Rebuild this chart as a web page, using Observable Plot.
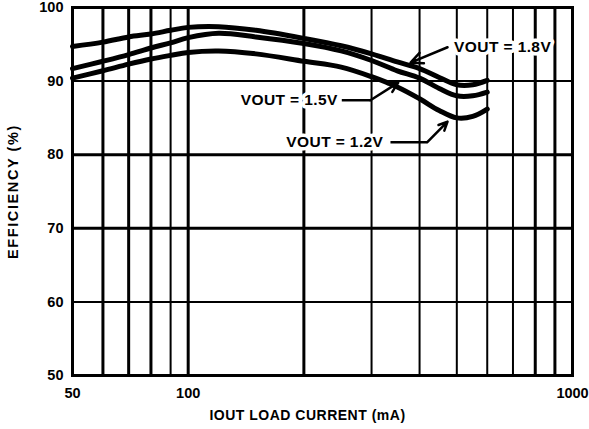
<!DOCTYPE html>
<html><head><meta charset="utf-8">
<script src="https://cdn.jsdelivr.net/npm/d3@7"></script>
<script src="https://cdn.jsdelivr.net/npm/@observablehq/plot@0.6"></script>
<style>body{margin:0;background:#fff} svg{display:block}</style>
</head><body><div id="chart"></div>
<script>
// Load current (mA)
const current = [50, 60, 70, 80, 90, 100, 120, 150, 200, 250, 300, 350, 400, 450, 500, 550, 600];
// Efficiency (%) per output voltage
const vout18 = [94.7, 95.3, 96.0, 96.4, 96.9, 97.3, 97.4, 96.9, 95.8, 94.8, 93.7, 92.6, 91.7, 90.5, 89.5, 89.5, 90.1];
const vout15 = [91.7, 92.7, 93.6, 94.5, 95.2, 95.9, 96.5, 96.0, 95.1, 94.1, 92.8, 91.4, 90.4, 89.0, 88.0, 88.0, 88.5];
const vout12 = [90.4, 91.4, 92.3, 93.0, 93.5, 93.9, 94.1, 93.7, 92.7, 91.9, 90.6, 89.2, 87.6, 86.0, 85.0, 85.2, 86.2];
const seriesNames = ["1.8V", "1.5V", "1.2V"];

const xTicks = [50, 100, 1000];
const yTicks = [50, 60, 70, 80, 90, 100];
const xGrid = [60, 70, 80, 90, 100, 200, 300, 400, 500, 600, 700, 800, 900];
const yGrid = [60, 70, 80, 90];

// Annotations (data coordinates)
const labelText = ["VOUT = 1.8V", "VOUT = 1.5V", "VOUT = 1.2V"];
const labelX = [492, 245, 322];
const labelY = [94.6, 87.4, 81.7];
const leaders = [
  {x1: 251, y1: 87.4, x2: 298, y2: 87.4},
  {x1: 336, y1: 81.7, x2: 419, y2: 81.7}
];
const pointers = [
  {x1: 473, y1: 94.6, x2: 379, y2: 92.5},
  {x1: 298, y1: 87.4, x2: 352, y2: 89.8},
  {x1: 419, y1: 81.7, x2: 473, y2: 84.5}
];
const xTitle = "IOUT LOAD CURRENT (mA)";
const yTitle = "EFFICIENCY (%)";

const seriesValues = [vout18, vout15, vout12];
const rows = seriesNames.flatMap((s, k) => current.map((c, i) => ({series: s, current: c, eff: seriesValues[k][i]})));
const labels = labelText.map((t, i) => ({text: t, x: labelX[i], y: labelY[i], anchor: i === 0 ? "start" : "end"}));

const thinX = new Set([90, 300, 400, 500, 600, 700]);
const thinY = new Set([60, 90]);

const chart = Plot.plot({
  width: 589,
  height: 429,
  marginLeft: 72,
  marginRight: 17,
  marginTop: 7,
  marginBottom: 54,
  style: {fontFamily: "'Liberation Sans', Arial, sans-serif", fontWeight: "bold", fontSize: "14px", color: "black", background: "white"},
  x: {type: "log", domain: [50, 1000], axis: null},
  y: {domain: [50, 100], axis: null},
  marks: [
    Plot.ruleX(xGrid, {stroke: "black", strokeWidth: d => thinX.has(d) ? 2 : 3}),
    Plot.ruleY(yGrid, {stroke: "black", strokeWidth: d => thinY.has(d) ? 2 : 3}),
    Plot.frame({stroke: "black", strokeWidth: 3}),
    Plot.text(xTicks, {x: d => d, frameAnchor: "bottom", dy: 18, text: d => String(d), textAnchor: "middle", lineAnchor: "middle", fontSize: 14.5}),
    Plot.text(yTicks, {y: d => d, frameAnchor: "left", dx: -9, text: d => String(d), textAnchor: "end", lineAnchor: "middle", fontSize: 14.5}),
    Plot.line(rows, {x: "current", y: "eff", z: "series", stroke: "black", strokeWidth: 5, curve: "catmull-rom"}),
    Plot.text(labels.filter(d => d.anchor === "start"), {x: "x", y: "y", text: "text", textAnchor: "start", fontSize: 15.5, fill: "black", stroke: "white", strokeWidth: 7}),
    Plot.text(labels.filter(d => d.anchor === "end"), {x: "x", y: "y", text: "text", textAnchor: "end", fontSize: 15.5, fill: "black", stroke: "white", strokeWidth: 7}),
    Plot.link(leaders, {x1: "x1", y1: "y1", x2: "x2", y2: "y2", stroke: "black", strokeWidth: 2.5}),
    Plot.arrow(pointers, {x1: "x1", y1: "y1", x2: "x2", y2: "y2", bend: 0, stroke: "black", strokeWidth: 2.5, headLength: 9, headAngle: 50}),
    Plot.text([xTitle], {frameAnchor: "bottom", dx: -15, dy: 40, text: d => d, textAnchor: "middle", lineAnchor: "middle", fontSize: 14}),
    Plot.text([yTitle], {frameAnchor: "left", dx: -59, text: d => d, textAnchor: "middle", lineAnchor: "middle", rotate: -90, fontSize: 14.5})
  ]
});
d3.select(chart).selectAll("text").each(function() {
  const t = this.textContent;
  if (t === xTitle) this.style.letterSpacing = "0.5px";
  else if (t === yTitle) this.style.letterSpacing = "1.6px";
  else if (t.startsWith("VOUT")) this.style.letterSpacing = "0.4px";
});
document.getElementById("chart").append(chart);
</script>
</body></html>
